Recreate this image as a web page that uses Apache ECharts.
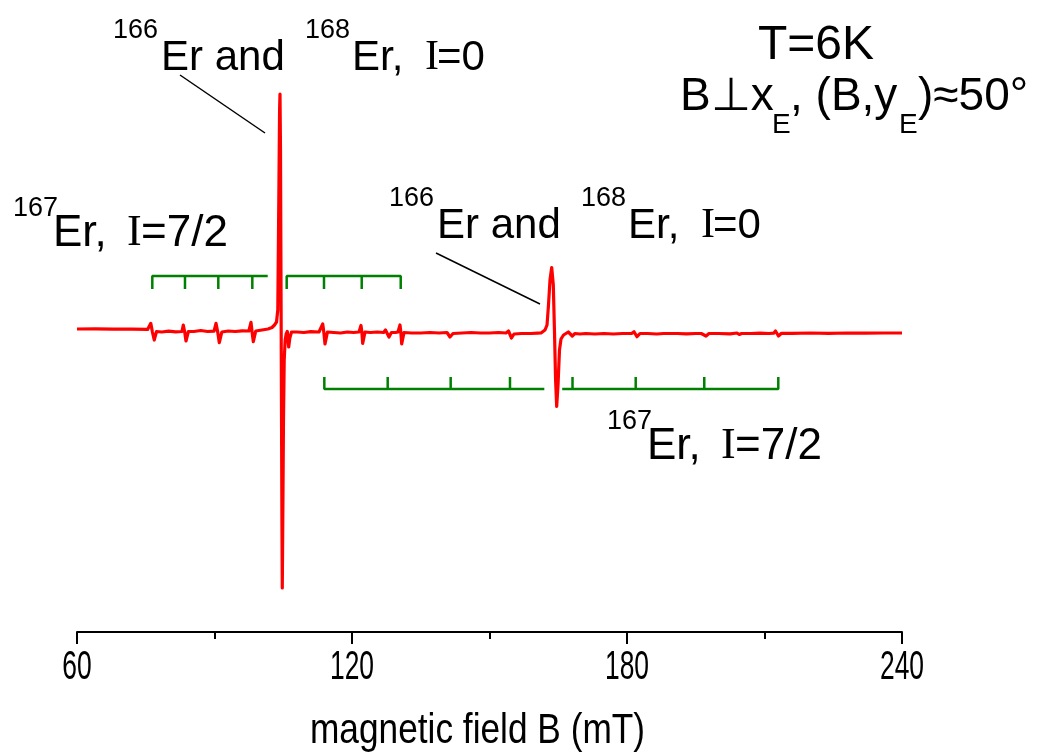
<!DOCTYPE html>
<html><head><meta charset="utf-8">
<script src="https://cdn.jsdelivr.net/npm/echarts@6/dist/echarts.min.js"></script>
<style>html,body{margin:0;padding:0;background:#fff}#c{width:1043px;height:754px}</style>
</head><body><div id="c"></div>
<script>
// ---- data (magnetic field in mT, EPR signal in arbitrary units) ----
const fieldMT = [
 60.0, 64.0, 68.0, 72.0, 75.4, 75.8, 76.1, 76.45, 76.85, 77.35, 78.5, 80.0, 81.5, 82.9,
 83.19, 83.5, 83.78, 84.3, 85.5, 87.0, 88.5, 89.9,
 90.33, 90.7, 91.05, 91.6, 93.0, 94.5, 96.0, 97.5,
 97.96, 98.2, 98.47, 99.0, 100.36, 101.67, 102.55, 103.09, 103.53, 103.81, 104.03, 104.20, 104.29, 104.40,
 104.55, 104.71, 104.79, 104.90, 105.05, 105.21, 105.42, 105.64, 105.88, 106.19, 106.43, 106.80,
 108.0, 109.5, 111.0, 112.8, 113.61, 113.85, 114.11, 114.65, 116.0, 117.5, 119.0, 120.3, 121.53,
 121.96, 122.15, 122.33, 122.84, 124.0, 125.5, 126.9, 127.31, 128.07, 128.6, 129.5, 130.04,
 130.47, 130.65, 130.84, 131.35, 133.0, 135.0, 137.0, 139.0, 140.73, 141.38, 142.04,
 144.0, 146.0, 148.0, 150.0, 152.0, 153.6, 154.15, 154.80, 155.35, 157.0, 159.0, 160.5,
 161.24, 162.11, 162.55, 162.87, 163.20, 163.57, 163.92, 164.18, 164.42, 164.66, 164.95, 165.27,
 165.60, 166.15, 167.19, 168.06, 168.65, 169.74, 171.0, 173.0, 175.0, 177.0, 179.0, 181.0,
 181.53, 182.18, 182.84, 184.5, 186.5, 188.0, 191.0, 193.0, 195.0, 196.2,
 196.58, 197.24, 197.89, 200.0, 202.5, 204.0, 204.5, 205.0, 207.0, 209.0, 211.0, 212.0,
 212.40, 213.05, 213.71, 216.0, 220.0, 224.0, 228.0, 232.0, 236.0, 240.0
];
const signal = [
 3.0, 3.2, 2.8, 2.9, 2.6, 2.8, 8.7, 0, -8, 0.5, 0, 0.8, 0.2, 0.5,
 7, 0, -9, 0.5, 0.5, 1.5, 0.5, 0.8,
 8.7, 0, -10.7, 0, 1, 0.5, 1.2, 1,
 9.7, 0, -9.7, 1, 2, 3, 4.5, 7, 10, 22, 132, 222, 238, 182,
 0, -188, -256, -188, -88, -28, -8, -2, 0.5, -15, -6, 0,
 0, -0.5, 0.3, 0, 8, 0, -12, 0, -0.5, -1, 0, -0.5, 0,
 6.5, 0, -11.5, 0, -0.5, 0, -0.5, 2, -5, -0.5, -0.5, 0,
 7, 0, -12, -0.5, -1, -1, -0.5, -1, -0.5, -5, -1.5,
 -1, -0.5, -1, -1, -0.5, -1, 1, -6, -2, -1.5, -1.5, -1.2,
 -1, 2, 7, 27, 52, 64.5, 47, 0, -48, -74.5, -53, -18,
 -7, -3, 0, -4, -1.5, -2, -1.5, -2, -1.5, -2, -1.5, -1.5,
 0.3, -4.7, -1.5, -1.5, -2, -1.5, -1.5, -1.8, -1.5, -1.5,
 0.5, -4, -1.5, -1.5, -1.8, -1.0, -2.5, -1.5, -1.5, -1.2, -1.5, -1.2,
 1, -4, -1.3, -1.3, -1.0, -1.3, -1.0, -1.2, -1.0, -1.0
];
// 167Er hyperfine stick positions (mT)
const upperCombLeftTicks = [76.43, 83.56, 90.83, 98.25];
const upperCombLeftEnd = 101.61;
const upperCombRightTicks = [105.75, 113.89, 122.12, 130.63];
const lowerCombLeftTicks = [113.96, 127.79, 141.53, 154.47];
const lowerCombLeftEnd = 161.96;
const lowerCombRightStart = 165.86;
const lowerCombRightTicks = [168.11, 181.90, 196.86, 213.01];
// x axis ticks and labels
const xTickValues = [60, 120, 180, 240];
const xTickLabels = ['60', '120', '180', '240'];
const xAxisTitle = 'magnetic field B (mT)';
// leader lines (mT, signal)
const leaderTop = [[82.47, 257], [101.02, 199]];
const leaderMid = [[138.33, 79], [161.02, 28]];

// ---- layout ----
const UPPER_LINE = 56, UPPER_TICK = 43, LOWER_LINE = -57, LOWER_TICK = -45;
function comb(start, ticks, end, lineY, tickY) {
  const pts = [];
  if (start != null && start < ticks[0]) pts.push([start, lineY]);
  ticks.forEach(t => { pts.push([t, lineY], [t, tickY], [t, lineY]); });
  if (end != null && end > ticks[ticks.length - 1]) pts.push([end, lineY]);
  return pts;
}
const combs = [
  comb(null, upperCombLeftTicks, upperCombLeftEnd, UPPER_LINE, UPPER_TICK),
  comb(null, upperCombRightTicks, null, UPPER_LINE, UPPER_TICK),
  comb(null, lowerCombLeftTicks, lowerCombLeftEnd, LOWER_LINE, LOWER_TICK),
  comb(lowerCombRightStart, lowerCombRightTicks, null, LOWER_LINE, LOWER_TICK)
];

const SANS = '"Liberation Sans", Arial, sans-serif';
const SERIF = '"Liberation Serif", "Times New Roman", serif';
function frag(text, x, baseline, size, family, align, scaleX) {
  return { type: 'text', x: x, y: baseline - 0.3465 * size, silent: true, z: 100,
    scaleX: scaleX || 1,
    style: { text: text, font: size + 'px ' + (family || SANS), fill: '#000',
             align: align || 'left', verticalAlign: 'middle' } };
}
const M = 42, S = 27, L = 44;
const texts = [
  // top label
  frag('166', 113, 40, S), frag('Er and', 161, 73, M), frag('168', 305, 40, S),
  frag('Er,', 352, 73, M), frag('I', 425, 73, M, SERIF), frag('=0', 437, 73, M),
  // middle label
  frag('166', 389, 208, S), frag('Er and', 437, 241, M), frag('168', 581, 208, S),
  frag('Er,', 628, 241, M), frag('I', 701, 241, M, SERIF), frag('=0', 713, 241, M),
  // left label
  frag('167', 13, 218, S), frag('Er,', 53, 249, L), frag('I', 127, 249, L, SERIF), frag('=7/2', 141, 249, L),
  // lower right label
  frag('167', 607, 431, S), frag('Er,', 647, 462, L), frag('I', 721, 462, L, SERIF), frag('=7/2', 735, 462, L),
  // conditions
  frag('T=6K', 758, 62, 48),
  frag('B\u22A5x', 680, 113, 46), frag('E', 772, 135, 28), frag(', (B,y', 790, 113, 46),
  frag('E', 899, 135, 28), frag(')\u224850\u00B0', 918, 113, 46)
];

const chart = echarts.init(document.getElementById('c'), null, { renderer: 'canvas' });
const series = [];
combs.forEach(c => series.push({ type: 'line', data: c, showSymbol: false, silent: true,
  lineStyle: { color: '#008000', width: 2.5 }, z: 2 }));
[leaderTop, leaderMid].forEach(l => series.push({ type: 'line', data: l, showSymbol: false, silent: true,
  lineStyle: { color: '#000', width: 1.5 }, z: 2 }));
series.push({ type: 'line', data: fieldMT.map((x, i) => [x, signal[i]]), showSymbol: false,
  silent: true, lineStyle: { color: '#ff0000', width: 3.2, join: 'round' }, z: 3 });

chart.setOption({
  animation: false,
  backgroundColor: '#fff',
  grid: { left: 77, right: 141, top: 32, bottom: 122, containLabel: false },
  xAxis: {
    type: 'value', min: xTickValues[0], max: xTickValues[xTickValues.length - 1],
    interval: xTickValues[1] - xTickValues[0],
    axisLine: { show: true, onZero: false, lineStyle: { color: '#000', width: 2 } },
    axisTick: { show: true, length: 12, lineStyle: { color: '#000', width: 2 } },
    minorTick: { show: true, splitNumber: 2, length: 7, lineStyle: { color: '#000', width: 2 } },
    axisLabel: { show: false },
    splitLine: { show: false }, minorSplitLine: { show: false }
  },
  yAxis: { type: 'value', min: -300, max: 300, show: false, splitLine: { show: false } },
  series: series,
  graphic: texts
});

// condensed axis labels and title, positioned through the axis scale
const axisTexts = xTickValues.map((v, i) => {
  const px = chart.convertToPixel({ xAxisIndex: 0 }, v);
  return frag(xTickLabels[i], px, 682, 40, SANS, 'center', 0.66);
});
const midPx = chart.convertToPixel({ xAxisIndex: 0 }, (xTickValues[0] + xTickValues[xTickValues.length - 1]) / 2);
axisTexts.push(frag(xAxisTitle, midPx - 12, 746, 42, SANS, 'center', 0.84));
chart.setOption({ graphic: texts.concat(axisTexts) });
</script></body></html>
